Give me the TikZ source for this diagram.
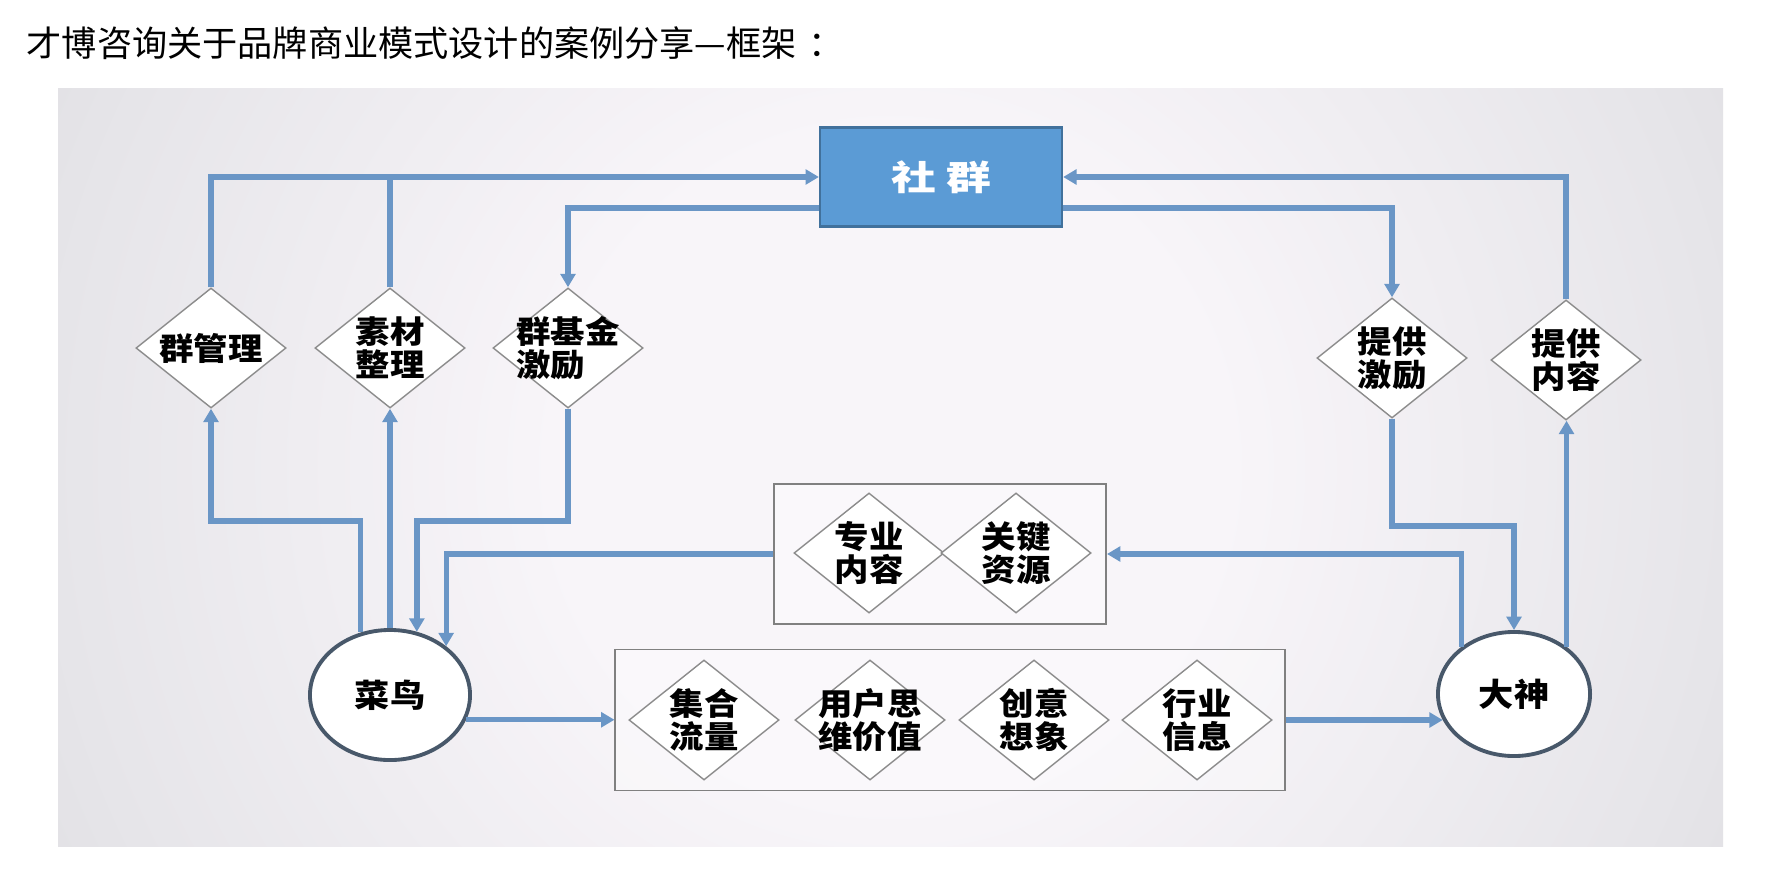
\documentclass[tikz,border=0pt]{standalone}
\usepackage{fontspec}
\newfontfamily\cjk{Noto Sans CJK SC}
\newfontfamily\cjkwide[FakeStretch=1.1]{Noto Sans CJK SC}
\newfontfamily\cjkbroad[FakeStretch=1.3]{Noto Sans CJK SC}
\usetikzlibrary{shapes.geometric,arrows.meta}
\definecolor{flowblue}{RGB}{106,150,198}
\definecolor{boxblue}{RGB}{91,155,213}
\definecolor{boxedge}{RGB}{65,113,156}
\definecolor{ringgray}{RGB}{72,88,106}
\definecolor{bgin}{RGB}{248,245,249}
\definecolor{bgmid}{RGB}{230,229,233}
\definecolor{bgout}{RGB}{196,196,199}
\pgfdeclareradialshading{bgglow}{\pgfpoint{0bp}{0bp}}{color(0bp)=(bgin); color(10bp)=(bgin); color(25bp)=(bgmid); color(50bp)=(bgout); color(75bp)=(bgout)}
\tikzset{
  kdiamond/.style={shape=diamond, draw=black!45, fill=white, line width=0.4pt, minimum width=1.5cm, minimum height=1.2cm, inner sep=0pt},
  ktext/.style={font=\cjkwide\bfseries\fontsize{8.9}{9.4}\selectfont, align=left, inner sep=0pt},
  grpbox/.style={draw=black!50, fill=white, fill opacity=0.35, line width=0.5pt},
  role/.style={ellipse, draw=ringgray, fill=white, line width=1.1pt, inner sep=0pt, font=\cjkwide\bfseries\fontsize{9.1}{9.1}\selectfont},
  flow/.style={draw=flowblue, line width=1.5pt, -{Triangle[width=4.2pt,length=3.8pt]}},
  link/.style={draw=flowblue, line width=1.5pt}
}
\begin{document}
\begin{tikzpicture}[x=0.01cm, y=-0.01cm]
\useasboundingbox[fill=white] (0,0) rectangle (1789,870);
\begin{scope}
\clip (58,89) rectangle (1723,846);
\shade[shading=bgglow] (50,-373) rectangle (1730,1307);
\end{scope}
\node[anchor=west, inner sep=0pt, font=\cjk\fontsize{10}{10}\selectfont] (title) at (26,43) {才博咨询关于品牌商业模式设计的案例分享—框架\kern0.35em：};
% groups
\node[grpbox, minimum width=3.32cm, minimum height=1.40cm] (midbox) at (940,554) {};
\node[grpbox, minimum width=6.69cm, minimum height=1.41cm] (lowbox) at (950,720) {};
\node[draw=boxedge, fill=boxblue, line width=0.6pt, minimum width=2.42cm, minimum height=0.99cm, text=white, font=\cjkbroad\bfseries\fontsize{9.8}{9.8}\selectfont] (shequn) at (941,177) {社 群};
% diamonds
\node[kdiamond, label={[ktext]center:群管理}] (qunguanli) at (211,348) {};
\node[kdiamond, label={[ktext]center:{素材\\整理}}] (sucai) at (390,348) {};
\node[kdiamond, label={[ktext]center:{群基金\\激励}}] (jijin) at (568,348) {};
\node[kdiamond, label={[ktext]center:{提供\\激励}}] (jili) at (1392,358) {};
\node[kdiamond, label={[ktext]center:{提供\\内容}}] (neirong) at (1566,360) {};
\node[kdiamond, label={[ktext]center:{专业\\内容}}] (zhuanye) at (869,553) {};
\node[kdiamond, label={[ktext]center:{关键\\资源}}] (ziyuan) at (1016,553) {};
\node[kdiamond, label={[ktext]center:{集合\\流量}}] (liuliang) at (704,720) {};
\node[kdiamond, label={[ktext]center:{用户思\\维价值}}] (siwei) at (870,720) {};
\node[kdiamond, label={[ktext]center:{创意\\想象}}] (chuangyi) at (1034,720) {};
\node[kdiamond, label={[ktext]center:{行业\\信息}}] (hangye) at (1197,720) {};
% roles
\node[role, minimum width=1.60cm, minimum height=1.30cm] (cainiao) at (390,695) {菜鸟};
\node[role, minimum width=1.52cm, minimum height=1.24cm] (dashen) at (1514,694) {大神};
\coordinate (lvlA) at (0,521);
\coordinate (lvlB) at (0,208);
\coordinate (lvlC) at (0,526);
% connectors
\path[flow] (qunguanli.north) |- (shequn.west);
\path[link] (sucai.north) -- (sucai.north |- shequn.west);
\path[flow] (shequn.west |- lvlB) -| (jijin.north);
\path[flow] (cainiao.115) -- (cainiao.115 |- lvlA) -| (qunguanli.south);
\path[flow] (cainiao.north) -- (sucai.south);
\path[flow] (jijin.south) |- (cainiao.67 |- lvlA) -- (cainiao.67);
\path[flow] (midbox.west) -| (cainiao.41);
\path[flow] (cainiao.-18) -- (cainiao.-18 -| lowbox.west);
\path[flow] (lowbox.east) -- (lowbox.east -| dashen.200);
\path[flow] (shequn.east |- lvlB) -| (jili.north);
\path[flow] (neirong.north) |- (shequn.east);
\path[flow] (jili.south) |- (dashen.north |- lvlC) -- (dashen.north);
\path[flow] (dashen.42) -- (dashen.42 |- neirong.south);
\path[flow] (dashen.138) |- (midbox.east);
\end{tikzpicture}
\end{document}
